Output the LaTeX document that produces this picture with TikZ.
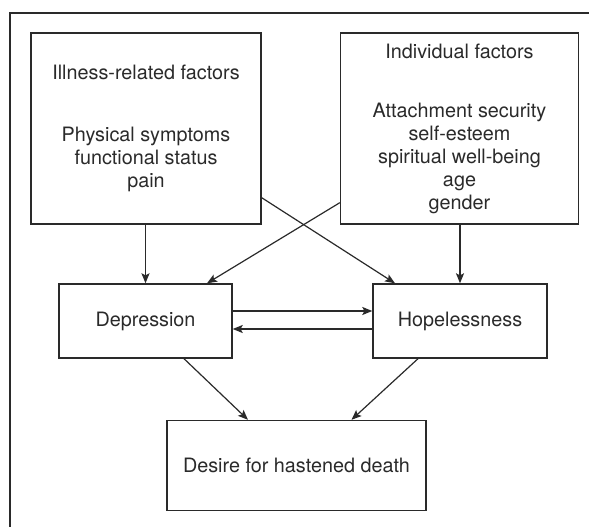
\documentclass[tikz,border=0pt]{standalone}
\usepackage{fontspec}
\setmainfont{TeX Gyre Heros}
\usetikzlibrary{arrows.meta}
\definecolor{ink}{HTML}{2A2A2A}
\tikzset{
  box/.style={draw=ink, line width=1.4pt, rectangle, inner sep=0pt, align=center,
    text=ink, font=\fontsize{19.8}{22.8}\selectfont},
  conn/.style={draw=ink, line width=1.2pt, -{Stealth[length=10pt,width=8pt,inset=2pt]}},
  frame/.style={draw=ink, line width=1.6pt}
}
\begin{document}
\begin{tikzpicture}[x=1pt,y=-1pt]
\useasboundingbox (0,0) rectangle (589,527);
\draw[frame] (10,528) -- (10,13) -- (590,13);

\node[box, minimum width=230pt, minimum height=191pt] (ill) at (146,128.5)
  {Illness-related factors\\[39pt]Physical symptoms\\functional status\\pain};
\node[box, minimum width=238pt, minimum height=191pt] (ind) at (459.5,128.5)
  {Individual factors\\[37pt]Attachment security\\self-esteem\\spiritual well-being\\age\\gender};
\node[box, minimum width=173pt, minimum height=74pt] (dep) at (145.5,321) {Depression};
\node[box, minimum width=174pt, minimum height=74pt] (hop) at (460,321) {Hopelessness};
\node[box, minimum width=259pt, minimum height=90pt] (des) at (296.5,465.5) {Desire for hastened death};

\draw[conn] (ill.south -| dep.north) -- (dep.north);
\draw[conn] (ind.south -| hop.north) -- (hop.north);
\draw[conn] ([yshift=27pt]ill.south east) -- ([xshift=-65pt]hop.north);
\draw[conn] ([yshift=22pt]ind.south west) -- ([xshift=61.5pt]dep.north);
\draw[conn] ([yshift=10pt]dep.east) -- ([yshift=10pt]hop.west);
\draw[conn] ([yshift=-8pt]hop.west) -- ([yshift=-8pt]dep.east);
\draw[conn] ([xshift=38.5pt]dep.south) -- ([xshift=-48.5pt]des.north);
\draw[conn] ([xshift=-42pt]hop.south) -- ([xshift=55pt]des.north);
\end{tikzpicture}
\end{document}
